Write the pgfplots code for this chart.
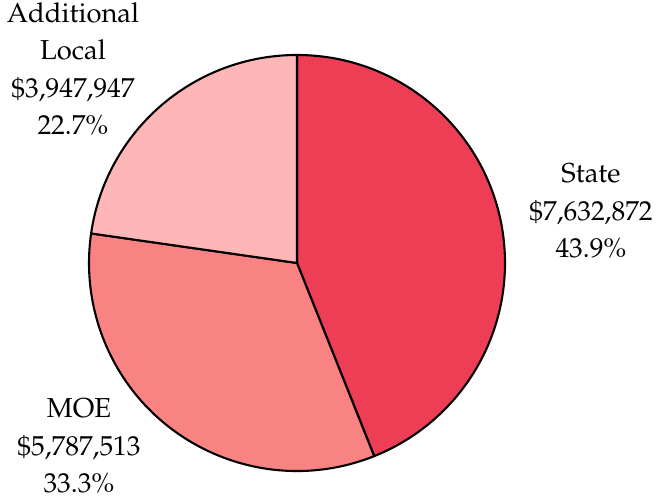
\documentclass[border=0pt]{standalone}
\usepackage[T1]{fontenc}
\usepackage{mathpazo}
\usepackage{pgfplots}
\pgfplotsset{compat=1.18}
\definecolor{cstate}{HTML}{EE3E55}
\definecolor{cmoe}{HTML}{F98382}
\definecolor{cadd}{HTML}{FFB6B6}
\begin{document}
\begin{tikzpicture}
\begin{axis}[
    x=1bp,y=1bp,
    xmin=0,xmax=656,ymin=0,ymax=504,
    hide axis,clip=false,
]
  % slice values in millions of dollars
  \pgfmathsetmacro{\vs}{7.632872}
  \pgfmathsetmacro{\vm}{5.787513}
  \pgfmathsetmacro{\va}{3.947947}
  \pgfmathsetmacro{\tot}{\vs+\vm+\va}
  \pgfmathsetmacro{\as}{90-360*\vs/\tot}
  \pgfmathsetmacro{\am}{\as-360*\vm/\tot}
  \path (axis cs:0,0) rectangle (axis cs:656,504);
  \filldraw[fill=cstate,draw=black,line width=2.1pt,line join=round]
    (axis cs:297,241) -- ++(90:208bp) arc[start angle=90,end angle=\as,radius=208bp] -- cycle;
  \filldraw[fill=cmoe,draw=black,line width=2.1pt,line join=round]
    (axis cs:297,241) -- ++(\as:208bp) arc[start angle=\as,end angle=\am,radius=208bp] -- cycle;
  \filldraw[fill=cadd,draw=black,line width=2.1pt,line join=round]
    (axis cs:297,241) -- ++(\am:208bp) arc[start angle=\am,end angle=-270,radius=208bp] -- cycle;
  \tikzset{lbl/.style={align=center,font=\fontsize{27.5}{37.5}\selectfont,inner sep=0pt}}
  \node[lbl] at (axis cs:591,293) {State\\\$7,632,872\\43.9\%};
  \node[lbl] at (axis cs:79,58) {MOE\\\$5,787,513\\33.3\%};
  \node[lbl] at (axis cs:73,435) {Additional\\Local\\\$3,947,947\\22.7\%};
\end{axis}
\end{tikzpicture}
\end{document}
